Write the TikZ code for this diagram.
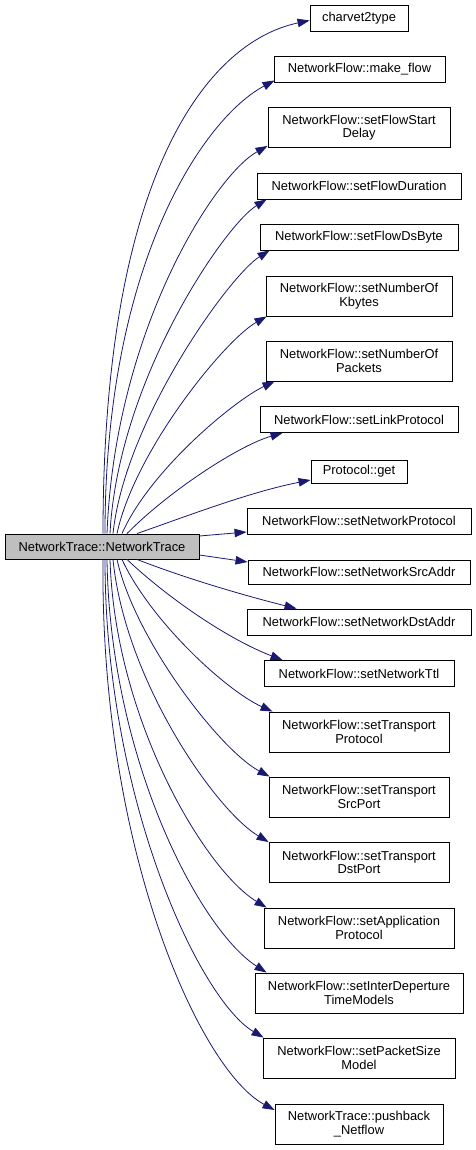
\documentclass[tikz,border=0pt]{standalone}
\usepackage{fontspec}
\setmainfont{Liberation Sans}
\usepackage{tikz}
\usetikzlibrary{positioning,arrows.meta}
\definecolor{edgeblue}{HTML}{191970}
\definecolor{srcgray}{HTML}{BFBFBF}
\begin{document}
\begin{tikzpicture}[
x=1pt, y=-1pt,
box/.style={draw, line width=0.9pt, align=center, inner sep=1pt, minimum height=26pt,
  font=\fontsize{12.9}{13.6}\selectfont},
box2/.style={box, minimum height=40pt},
arr/.style={-{Triangle[length=12pt,width=8.5pt]}, edgeblue, line width=0.8pt}
]
\useasboundingbox (0,0) rectangle (476,1150);
\node[box, fill=srcgray, minimum width=194pt, minimum height=25pt] (nt) at (102,546.5) {NetworkTrace::NetworkTrace};
\node[box, minimum width=98pt] (cv) at (359,18.5) {charvet2type};
\node[box, minimum width=171pt] (mf) at (359.5,69) {NetworkFlow::make\_flow};
\node[box2, minimum width=182pt] (fsd) at (359,127.5) {NetworkFlow::setFlowStart\\Delay};
\node[box, minimum width=204pt] (fd) at (359,186) {NetworkFlow::setFlowDuration};
\node[box, minimum width=198pt] (fds) at (359,237) {NetworkFlow::setFlowDsByte};
\node[box2, minimum width=186pt] (kb) at (359,296) {NetworkFlow::setNumberOf\\Kbytes};
\node[box2, minimum width=186pt] (pk) at (359,361) {NetworkFlow::setNumberOf\\Packets};
\node[box, minimum width=198pt] (lp) at (359,419.5) {NetworkFlow::setLinkProtocol};
\node[box, minimum width=96pt, minimum height=23pt] (pg) at (359,471.5) {Protocol::get};
\node[box, minimum width=224pt] (snp) at (359,521) {NetworkFlow::setNetworkProtocol};
\node[box, minimum width=222pt, minimum height=24pt] (ssa) at (359,572) {NetworkFlow::setNetworkSrcAddr};
\node[box, minimum width=224pt] (sda) at (359,622) {NetworkFlow::setNetworkDstAddr};
\node[box, minimum width=190pt] (ttl) at (359,673.5) {NetworkFlow::setNetworkTtl};
\node[box2, minimum width=180pt] (tp) at (359,732) {NetworkFlow::setTransport\\Protocol};
\node[box2, minimum width=180pt] (tsp) at (359,797) {NetworkFlow::setTransport\\SrcPort};
\node[box2, minimum width=180pt] (tdp) at (359,862.5) {NetworkFlow::setTransport\\DstPort};
\node[box2, minimum width=190pt] (ap) at (359,928) {NetworkFlow::setApplication\\Protocol};
\node[box2, minimum width=208pt] (itm) at (359,993) {NetworkFlow::setInterDeperture\\TimeModels};
\node[box2, minimum width=192pt] (psm) at (359,1058) {NetworkFlow::setPacketSize\\Model};
\node[box2, minimum width=168pt] (pb) at (359,1124) {NetworkTrace::pushback\\\_Netflow};
\draw[arr] ([xshift=1pt]nt.north) .. controls (103,175) and (207,42) .. ([yshift=-2pt]cv.west);
\draw[arr] ([xshift=3pt]nt.north) .. controls (105,262) and (204,118) .. ([xshift=1pt,yshift=2pt]mf.south west);
\draw[arr] ([xshift=5pt]nt.north) .. controls (115,330) and (215,175) .. ([yshift=2pt]fsd.south west);
\draw[arr] ([xshift=8pt]nt.north) .. controls (118,380) and (225,225) .. ([xshift=10pt]fd.south west);
\draw[arr] ([xshift=11pt]nt.north) .. controls (125,420) and (230,275) .. ([xshift=10pt]fds.south west);
\draw[arr] ([xshift=15pt]nt.north) .. controls (135,450) and (225,340) .. ([xshift=1pt]kb.south west);
\draw[arr] ([xshift=20pt]nt.north) .. controls (150,470) and (235,400) .. ([xshift=9pt]pk.south west);
\draw[arr] ([xshift=25pt]nt.north) .. controls (170,490) and (240,445) .. ([xshift=23pt]lp.south west);
\draw[arr] ([xshift=35pt]nt.north) .. controls (190,515) and (250,492) .. ([yshift=-8.5pt]pg.west);
\draw[arr] ([yshift=10.5pt]nt.east) -- ([yshift=-11pt]snp.west);
\draw[arr] ([yshift=-8.5pt]nt.east) -- ([yshift=10pt]ssa.west);
\draw[arr] ([xshift=35pt]nt.south) .. controls (190,580) and (250,597) .. ([xshift=50pt]sda.north west);
\draw[arr] ([xshift=25pt]nt.south) .. controls (170,600) and (230,640) .. ([xshift=19pt]ttl.north west);
\draw[arr] ([xshift=20pt]nt.south) .. controls (150,620) and (225,690) .. ([xshift=4pt]tp.north west);
\draw[arr] ([xshift=15pt]nt.south) .. controls (135,640) and (220,750) .. ([xshift=1pt]tsp.north west);
\draw[arr] ([xshift=11pt]nt.south) .. controls (125,680) and (215,810) .. (tdp.north west);
\draw[arr] ([xshift=8pt]nt.south) .. controls (115,720) and (205,870) .. ([xshift=3pt]ap.north west);
\draw[arr] ([xshift=5pt]nt.south) .. controls (110,760) and (200,930) .. ([xshift=12pt]itm.north west);
\draw[arr] ([xshift=3pt]nt.south) .. controls (105,800) and (200,1000) .. ([xshift=1pt]psm.north west);
\draw[arr] ([xshift=1pt]nt.south) .. controls (100,850) and (200,1070) .. ([yshift=14pt]pb.west);
\end{tikzpicture}
\end{document}
